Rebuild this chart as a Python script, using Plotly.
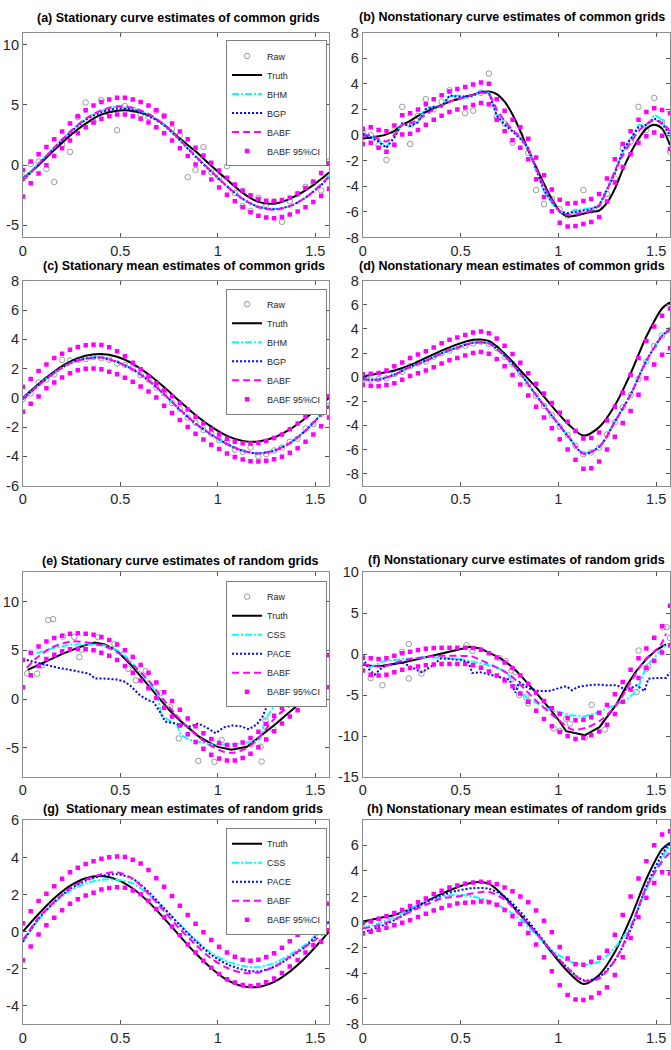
import plotly.graph_objects as go

# ---------------- common grids ----------------
XG = [0.0, 0.0403, 0.0806, 0.1208, 0.1611, 0.2014, 0.2417, 0.2819, 0.3222, 0.3625,
      0.4028, 0.4430, 0.4833, 0.5236, 0.5639, 0.6042, 0.6444, 0.6847, 0.7250, 0.7653,
      0.8055, 0.8458, 0.8861, 0.9264, 0.9666, 1.0069, 1.0472, 1.0875, 1.1278, 1.1680,
      1.2083, 1.2486, 1.2889, 1.3291, 1.3694, 1.4097, 1.4500, 1.4903, 1.5305, 1.5708]
XL = [0.0, 0.0806, 0.1611, 0.2417, 0.3222, 0.4028, 0.4833, 0.5639, 0.6444, 0.7250, 0.8055,
      0.8861, 0.9666, 1.0472, 1.1278, 1.2083, 1.2889, 1.3694, 1.4500, 1.5305, 1.5708]

TRUTH_SM = [0.0, 0.949, 1.801, 2.467, 2.882, 2.998, 2.806, 2.327, 1.606, 0.717, -0.241,
            -1.17, -1.97, -2.598, -2.943, -2.981, -2.71, -2.157, -1.395, -0.482, 0.0]
TRUTH_NM = [0.05, 0.3, 0.55, 1.0, 1.6, 2.2, 2.72, 3.1, 3.0, 1.95, 0.55,
            -0.85, -2.4, -3.85, -4.85, -4.15, -2.35, 0.3, 3.37, 5.7, 6.2]

# (a)
A_RAW = [-1.0, 0.1, 0.3, -0.3, -1.4, 1.7, 1.1, 4.0, 5.2, 3.6, 5.4, 4.3, 2.9, 4.9, 4.6, 4.2, 4.0, 4.5, 4.1, 3.0,
         2.5, -1.0, -0.4, 1.5, -0.6, -1.0, -0.1, -2.3, -3.4, -3.8, -2.7, -3.3, -3.0, -4.7, -3.0, -2.4, -1.8, -1.5, -2.1, 0.3]
A_TRUTH = [-1.09, 0.0, 1.25, 2.45, 3.45, 4.2, 4.52, 4.5, 4.15, 3.35, 2.2, 1.15, -0.05, -1.2, -2.3, -3.05, -3.2, -2.8, -2.1, -1.15, -0.6]
A_BHM = [-1.2, 0.15, 1.5, 2.8, 3.85, 4.5, 4.85, 4.7, 4.2, 3.35, 2.1, 0.75, -0.5, -1.75, -2.8, -3.45, -3.65, -3.4, -2.7, -1.6, -0.9]
A_BGP = [-1.3, 0.05, 1.4, 2.7, 3.75, 4.4, 4.7, 4.6, 4.1, 3.3, 2.05, 0.7, -0.55, -1.75, -2.8, -3.45, -3.65, -3.4, -2.7, -1.65, -0.95]
A_BABF = [-1.3, 0.1, 1.45, 2.75, 3.85, 4.55, 4.88, 4.75, 4.25, 3.35, 2.1, 0.75, -0.5, -1.75, -2.8, -3.5, -3.7, -3.4, -2.7, -1.6, -0.9]
A_UP = [-0.4, 0.3, 0.9, 1.5, 2.15, 2.8, 3.45, 4.05, 4.55, 4.95, 5.25, 5.45, 5.6, 5.6, 5.45, 5.25, 4.95, 4.55, 4.05, 3.45,
        2.8, 2.15, 1.45, 0.8, 0.2, -0.45, -1.05, -1.6, -2.1, -2.5, -2.8, -2.95, -3.0, -2.9, -2.7, -2.35, -1.9, -1.35, -0.65, 0.15]
A_LO = [-2.6, -1.5, -0.7, 0.0, 0.75, 1.4, 2.05, 2.65, 3.15, 3.55, 3.85, 4.05, 4.2, 4.2, 4.05, 3.85, 3.55, 3.15, 2.65, 2.05,
        1.4, 0.75, 0.05, -0.6, -1.2, -1.85, -2.45, -3.0, -3.5, -3.9, -4.2, -4.35, -4.4, -4.3, -4.1, -3.85, -3.5, -3.05, -2.55, -1.95]

# (b)
B_RAW = [0.1, 0.0, -0.8, -1.95, 0.3, 2.2, -0.7, 1.5, 2.8, 2.0, 2.6, 3.5, 2.9, 1.7, 1.9, 3.3, 4.8, 1.4, 0.9, -0.6,
         0.0, -1.4, -4.3, -5.4, -5.0, -5.8, -6.3, -6.0, -4.3, -5.9, -5.7, -4.6, -3.4, -1.0, -0.5, 2.2, 0.4, 2.9, 1.0, -1.3]
B_TRUTH = [-0.28, -0.2, -0.1, 0.05, 0.3, 0.8, 1.1, 1.5, 1.8, 2.1, 2.35, 2.6, 2.8, 3.0, 3.15, 3.35, 3.4, 3.2, 2.6, 1.6,
           0.3, -1.2, -2.5, -3.8, -5.0, -5.95, -6.35, -6.3, -6.15, -6.0, -5.9, -5.3, -4.2, -2.7, -1.4, -0.3, 0.5, 0.8, 0.5, -0.8]
B_BHM = [0.1, -0.1, -0.4, -0.9, -0.1, 0.9, 0.6, 1.1, 2.1, 2.2, 2.3, 3.0, 3.1, 2.9, 3.0, 3.5, 3.3, 1.6, 0.9, 0.3,
         -0.2, -1.1, -2.8, -4.4, -5.3, -6.0, -6.1, -5.9, -5.8, -5.7, -5.6, -4.2, -2.9, -1.3, -0.4, 0.8, 0.7, 1.6, 1.2, -0.2]
B_BGP = [0.1, -0.2, -0.5, -1.0, -0.2, 0.9, 0.7, 1.0, 2.0, 2.2, 2.2, 3.1, 3.0, 3.0, 3.1, 3.4, 3.3, 1.5, 0.8, 0.3,
         -0.3, -1.0, -2.7, -4.3, -5.2, -6.0, -6.1, -6.0, -5.9, -5.8, -5.5, -4.3, -3.0, -1.2, -0.3, 0.6, 0.8, 1.3, 0.9, 0.0]
B_BABF = [-0.1, 0.0, -0.3, -0.5, 0.0, 0.8, 0.9, 1.2, 1.6, 2.0, 2.3, 2.6, 2.8, 2.95, 3.15, 3.3, 3.2, 2.0, 1.1, 0.4,
          -0.2, -1.1, -2.6, -4.0, -5.1, -5.95, -6.25, -6.2, -6.05, -5.9, -5.5, -4.3, -2.8, -1.6, -0.6, 0.3, 0.85, 1.15, 0.95, 0.3]
B_UP = [0.5, 0.6, 0.4, 0.3, 0.75, 1.55, 1.7, 2.0, 2.4, 2.8, 3.1, 3.4, 3.6, 3.75, 3.95, 4.1, 4.0, 2.8, 1.9, 1.2,
        0.6, -0.3, -1.75, -3.15, -4.25, -5.05, -5.35, -5.3, -5.15, -5.0, -4.6, -3.4, -1.9, -0.7, 0.3, 1.2, 1.8, 2.1, 1.95, 1.7]
B_LO = [-0.7, -0.6, -1.0, -1.3, -0.75, 0.05, 0.1, 0.4, 0.8, 1.2, 1.5, 1.8, 2.0, 2.15, 2.35, 2.5, 2.4, 1.2, 0.3, -0.4,
        -1.0, -1.9, -3.45, -4.85, -5.95, -6.85, -7.15, -7.1, -6.95, -6.8, -6.4, -5.2, -3.7, -2.5, -1.5, -0.6, -0.1, 0.2, -0.05, -1.1]

# (c)
C_RAW = [-0.1, 0.3, 1.05, 1.25, 1.6, 2.6, 2.55, 2.6, 2.65, 2.8, 2.7, 2.6, 2.35, 2.25, 2.0, 1.55, 1.25, 0.7, 0.3, -0.35,
         -0.75, -1.35, -1.7, -2.2, -2.45, -2.9, -3.0, -3.55, -3.7, -3.4, -4.0, -3.85, -3.6, -3.4, -3.0, -2.8, -2.1, -1.8, -1.1, -0.55]
C_BHM = [-0.05, 0.87, 1.72, 2.37, 2.7, 2.76, 2.46, 1.95, 1.18, 0.22, -0.83, -1.78, -2.53, -3.17, -3.63, -3.8, -3.6, -3.08, -2.22, -1.12, -0.52]
C_BGP = [-0.08, 0.86, 1.71, 2.36, 2.69, 2.75, 2.45, 1.94, 1.19, 0.24, -0.81, -1.76, -2.51, -3.16, -3.62, -3.79, -3.61, -3.09, -2.24, -1.14, -0.54]
C_BABF = [-0.1, 0.85, 1.7, 2.35, 2.68, 2.75, 2.45, 1.95, 1.2, 0.25, -0.8, -1.75, -2.5, -3.15, -3.62, -3.8, -3.62, -3.1, -2.25, -1.15, -0.55]
C_UP = [0.76, 1.28, 1.84, 2.28, 2.73, 3.02, 3.29, 3.47, 3.6, 3.63, 3.61, 3.45, 3.18, 2.84, 2.4, 1.95, 1.46, 1.0, 0.5, 0.1,
        -0.35, -0.8, -1.3, -1.75, -2.15, -2.5, -2.8, -3.0, -3.1, -3.12, -3.08, -2.95, -2.75, -2.5, -2.15, -1.75, -1.3, -0.8, -0.3, 0.1]
C_LO = [-0.96, -0.4, 0.09, 0.65, 1.05, 1.39, 1.68, 1.88, 1.99, 2.01, 1.95, 1.79, 1.61, 1.37, 1.1, 0.78, 0.43, 0.02, -0.54, -1.03,
        -1.52, -2.0, -2.45, -2.85, -3.2, -3.5, -3.8, -4.05, -4.22, -4.33, -4.36, -4.3, -4.2, -4.03, -3.75, -3.45, -3.0, -2.5, -1.95, -1.35]

# (d)
D_RAW = [-0.25, -0.2, -0.15, -0.1, 0.25, 0.45, 0.9, 1.15, 1.3, 1.7, 2.0, 2.2, 2.5, 2.6, 2.8, 2.95, 2.75, 2.4, 1.7, 1.1,
         0.3, -0.55, -1.55, -2.4, -3.15, -4.1, -4.8, -5.7, -6.4, -6.25, -5.85, -4.75, -3.75, -2.5, -1.5, -0.15, 1.3, 2.6, 3.45, 3.9]
D_BHM = [-0.15, -0.18, 0.22, 0.86, 1.37, 2.0, 2.47, 2.86, 2.82, 1.78, 0.32, -1.48, -3.18, -4.83, -6.3, -5.78, -3.68, -1.42, 1.38, 3.45, 4.0]
D_BGP = [-0.18, -0.2, 0.2, 0.85, 1.36, 1.98, 2.46, 2.85, 2.8, 1.76, 0.3, -1.5, -3.2, -4.86, -6.35, -5.8, -3.7, -1.45, 1.36, 3.42, 3.97]
D_BABF = [-0.2, -0.2, 0.2, 0.85, 1.35, 1.98, 2.45, 2.85, 2.8, 1.75, 0.3, -1.5, -3.2, -4.85, -6.35, -5.8, -3.7, -1.45, 1.35, 3.4, 3.95]
D_UP = [0.25, 0.28, 0.35, 0.55, 0.9, 1.22, 1.6, 1.88, 2.15, 2.47, 2.82, 3.1, 3.3, 3.5, 3.7, 3.78, 3.65, 3.2, 2.6, 1.92,
        1.2, 0.32, -0.55, -1.35, -2.15, -2.95, -3.7, -4.45, -5.1, -5.05, -4.6, -3.6, -2.45, -1.3, 0.2, 1.6, 3.0, 4.2, 5.1, 5.7]
D_LO = [-0.65, -0.72, -0.75, -0.65, -0.5, -0.22, 0.1, 0.32, 0.55, 0.83, 1.14, 1.4, 1.6, 1.8, 2.0, 2.08, 1.95, 1.5, 0.9, 0.18,
        -0.6, -1.52, -2.45, -3.35, -4.25, -5.15, -6.0, -6.85, -7.6, -7.55, -7.0, -6.0, -4.95, -3.8, -2.8, -1.45, -0.1, 1.05, 1.85, 2.4]

# (e) random grids
E_RAW_X = [0.022, 0.073, 0.1, 0.13, 0.155, 0.206, 0.264, 0.29, 0.3, 0.386, 0.47, 0.54, 0.58, 0.63, 0.705,
           0.756, 0.8, 0.9, 0.983, 1.02, 1.22, 1.225, 1.245, 1.285, 1.48, 1.49, 1.503]
E_RAW_Y = [2.63, 2.6, 3.47, 8.09, 8.19, 6.4, 6.37, 4.3, 5.05, 6.34, 5.63, 3.1, 1.92, 2.86, 0.6,
           -0.84, -4.04, -6.34, -6.44, -4.21, -4.89, -6.4, -2.19, -3.1, 1.75, 2.0, -0.34]
E_TRUTH_X = [0.025, 0.1, 0.2, 0.3, 0.37, 0.42, 0.48, 0.55, 0.6, 0.65, 0.7, 0.75, 0.8, 0.85, 0.9, 0.95, 1.0,
             1.07, 1.15, 1.2, 1.25, 1.3, 1.4, 1.5]
E_TRUTH_Y = [3.0, 3.7, 4.6, 5.4, 5.8, 5.6, 5.0, 3.6, 2.4, 1.2, 0.0, -1.1, -2.1, -3.0, -3.8, -4.4, -4.9,
             -5.2, -4.9, -4.1, -3.3, -2.5, -0.8, 1.2]
E_CSS_X = [0.07, 0.15, 0.25, 0.35, 0.42, 0.5, 0.58, 0.65, 0.69, 0.71, 0.75, 0.79, 0.81, 0.86, 0.95, 1.0,
           1.1, 1.2, 1.22, 1.24, 1.28, 1.3, 1.5]
E_CSS_Y = [4.7, 5.2, 5.6, 5.6, 5.5, 4.9, 3.3, 1.6, 0.6, -1.6, -2.2, -2.6, -3.7, -4.2, -4.6, -4.7,
           -4.6, -4.3, -4.0, -2.2, -1.0, -0.2, 0.8]
E_PACE_X = [0.02, 0.06, 0.1, 0.13, 0.18, 0.24, 0.3, 0.34, 0.37, 0.42, 0.48, 0.52, 0.55, 0.58, 0.6, 0.64,
            0.67, 0.7, 0.73, 0.78, 0.82, 0.86, 0.9, 0.94, 0.99, 1.01, 1.03, 1.08, 1.12, 1.16, 1.2, 1.23,
            1.26, 1.29, 1.3, 1.38, 1.45, 1.49, 1.51]
E_PACE_Y = [4.0, 3.8, 3.6, 3.4, 3.2, 3.0, 2.8, 2.6, 2.1, 2.1, 2.0, 1.8, 1.4, 0.8, 0.4, -0.1,
            -0.3, -1.2, -2.3, -2.5, -2.7, -2.8, -2.5, -2.9, -3.5, -3.2, -2.9, -2.7, -2.8, -3.1, -2.6, -1.8,
            -0.4, 1.0, 1.6, 1.8, 2.0, 2.2, 2.8]
E_BABF_X = [0.02, 0.07, 0.15, 0.25, 0.33, 0.42, 0.5, 0.58, 0.65, 0.7, 0.78, 0.85, 0.95, 1.03, 1.08, 1.15,
            1.2, 1.25, 1.3, 1.4, 1.5]
E_BABF_Y = [3.2, 4.2, 5.3, 5.9, 5.8, 5.4, 4.6, 3.2, 1.8, 0.5, -1.5, -3.0, -4.6, -5.4, -5.5, -5.0,
            -4.2, -3.0, -1.8, -0.2, 1.3]
E_UP = [4.0, 4.75, 5.4, 5.9, 6.25, 6.5, 6.7, 6.75, 6.7, 6.6, 6.35, 6.05, 5.6, 5.0, 4.3, 3.5, 2.7, 1.7, 0.7, -0.2,
        -1.1, -2.0, -2.8, -3.5, -4.1, -4.5, -4.7, -4.7, -4.45, -4.0, -3.35, -2.55, -1.7, -0.9, -0.2, 0.55, 1.3, 2.3, 3.4, 4.5]
E_LO = [1.2, 2.45, 3.4, 4.1, 4.55, 4.9, 5.1, 5.15, 5.1, 5.0, 4.75, 4.45, 4.0, 3.4, 2.7, 1.9, 1.1, 0.1, -0.9, -1.8,
        -2.7, -3.6, -4.4, -5.1, -5.7, -6.1, -6.3, -6.3, -6.05, -5.6, -4.95, -4.15, -3.3, -2.5, -1.8, -1.15, -0.5, 0.1, 0.8, 1.2]

# (f)
F_RAW_X = [0.04, 0.1, 0.2, 0.235, 0.235, 0.3, 0.53, 0.56, 0.7, 0.73, 0.76, 0.78, 0.8, 0.836, 0.845, 0.976,
           1.007, 1.04, 1.058, 1.135, 1.17, 1.237, 1.4, 1.41, 1.45, 1.46, 1.536, 1.553, 1.57]
F_RAW_Y = [-2.93, -3.78, 0.28, 1.25, -2.97, -2.37, 1.09, 0.4, -0.5, -0.84, -2.0, -2.2, -4.98, -5.27, -6.0, -9.08,
           -9.36, -7.88, -8.48, -10.2, -6.19, -9.2, -4.62, 0.44, -1.77, -1.5, 3.26, 3.3, 1.97]
F_TRUTH_X = [0.0, 0.05, 0.1, 0.2, 0.3, 0.4, 0.48, 0.55, 0.6, 0.7, 0.75, 0.8, 0.85, 0.9, 0.95, 1.0, 1.04,
             1.135, 1.21, 1.25, 1.3, 1.35, 1.4, 1.45, 1.5, 1.55]
F_TRUTH_Y = [-1.3, -1.45, -1.4, -1.05, -0.5, 0.1, 0.5, 0.9, 0.7, -0.45, -1.3, -2.4, -3.7, -5.1, -6.5, -8.0, -9.4,
             -9.9, -8.9, -7.6, -6.0, -3.8, -2.0, -0.6, 0.5, 1.2]
F_CSS_X = [0.03, 0.1, 0.2, 0.3, 0.4, 0.5, 0.6, 0.68, 0.73, 0.76, 0.8, 0.85, 0.95, 1.05, 1.13, 1.2, 1.28,
           1.35, 1.4, 1.45, 1.55]
F_CSS_Y = [-1.7, -0.9, -0.6, -0.4, -0.4, -0.6, -1.1, -1.6, -2.1, -3.0, -4.6, -5.5, -6.7, -7.4, -7.6, -7.1, -6.3,
           -5.5, -4.5, -1.5, 1.2]
F_PACE_X = [0.0, 0.03, 0.06, 0.1, 0.15, 0.2, 0.25, 0.3, 0.35, 0.4, 0.45, 0.5, 0.54, 0.56, 0.6, 0.65, 0.7, 0.75,
            0.78, 0.8, 0.85, 0.9, 0.95, 1.0, 1.04, 1.07, 1.1, 1.15, 1.2, 1.25, 1.3, 1.35, 1.4, 1.44, 1.46, 1.5,
            1.55, 1.57]
F_PACE_Y = [-0.5, -1.8, -2.5, -1.6, -1.2, -1.0, -1.6, -2.2, -1.5, -0.5, -0.6, -0.7, -1.0, -2.3, -2.2, -2.5, -2.8, -3.1,
            -4.7, -3.4, -4.2, -4.5, -4.5, -4.2, -3.9, -4.4, -4.0, -3.8, -3.7, -3.8, -3.8, -4.4, -3.8, -4.5, -3.0, -2.9,
            -2.9, -2.2]
F_BABF_X = [0.0, 0.1, 0.2, 0.3, 0.4, 0.5, 0.56, 0.6, 0.7, 0.75, 0.8, 0.9, 1.0, 1.07, 1.15, 1.22, 1.3, 1.35, 1.4,
            1.45, 1.52, 1.55]
F_BABF_Y = [-1.2, -1.5, -0.8, -0.4, -0.2, -0.2, -0.3, -0.7, -1.8, -2.5, -3.6, -6.0, -8.0, -9.2, -8.9, -8.0, -6.1,
            -4.2, -2.2, -0.5, 1.0, 2.5]
F_UP = [-0.4, -0.5, -0.6, -0.5, -0.2, 0.1, 0.3, 0.5, 0.65, 0.75, 0.8, 0.8, 0.8, 0.8, 0.75, 0.55, 0.1, -0.4, -1.0, -1.7,
        -2.6, -3.6, -4.7, -5.7, -6.6, -7.3, -7.8, -8.05, -8.0, -7.7, -7.15, -6.2, -4.9, -3.4, -1.9, -0.5, 0.7, 2.0, 3.4, 5.9]
F_LO = [-2.0, -2.5, -2.6, -2.5, -2.2, -1.9, -1.7, -1.5, -1.35, -1.25, -1.2, -1.2, -1.2, -1.2, -1.35, -1.65, -2.1, -2.6, -3.2, -3.9,
        -4.8, -5.8, -6.9, -7.9, -8.8, -9.5, -10.0, -10.35, -10.2, -9.9, -9.45, -8.6, -7.3, -5.8, -4.3, -2.9, -1.7, -0.8, 0.2, 1.1]

# (g)
G_CSS = [-0.55, 0.65, 1.55, 2.2, 2.6, 2.8, 2.8, 2.6, 2.0, 1.25, 0.4, -0.45, -1.15, -1.6, -1.85, -1.92, -1.7, -1.25, -0.7, 0.1, 0.5]
G_PACE = [-0.55, 0.7, 1.6, 2.3, 2.75, 3.0, 3.1, 2.85, 2.15, 1.25, 0.35, -0.5, -1.25, -1.75, -2.05, -2.15, -1.9, -1.4, -0.8, 0.05, 0.55]
G_BABF = [-0.46, 0.75, 1.6, 2.35, 2.8, 3.1, 3.2, 2.85, 2.05, 1.1, 0.15, -0.7, -1.45, -1.95, -2.22, -2.2, -1.9, -1.35, -0.8, -0.2, 0.15]
G_UP = [0.45, 1.1, 1.65, 2.05, 2.45, 2.85, 3.2, 3.45, 3.65, 3.8, 3.93, 4.01, 4.05, 4.03, 3.88, 3.68, 3.33, 2.88, 2.42, 1.92,
        1.4, 0.9, 0.43, -0.03, -0.45, -0.82, -1.13, -1.35, -1.52, -1.57, -1.52, -1.37, -1.17, -0.87, -0.52, -0.17, 0.23, 0.63, 0.82, 1.5]
G_LO = [-1.55, -0.8, -0.15, 0.35, 0.75, 1.15, 1.5, 1.75, 1.95, 2.1, 2.27, 2.35, 2.39, 2.37, 2.22, 2.02, 1.67, 1.22, 0.78, 0.28,
        -0.2, -0.7, -1.13, -1.57, -1.95, -2.28, -2.57, -2.75, -2.88, -2.93, -2.88, -2.73, -2.53, -2.23, -1.88, -1.53, -1.13, -0.73, -0.55, 0.08]

# (h)
H_CSS = [-0.45, -0.1, 0.4, 1.05, 1.6, 2.0, 2.12, 2.0, 1.65, 1.05, 0.2, -1.0, -2.2, -3.0, -3.35, -3.1, -2.0, -0.3, 2.6, 5.0, 6.0]
H_PACE = [-0.8, -0.4, 0.15, 0.85, 1.55, 2.1, 2.45, 2.65, 2.6, 2.0, 0.8, -0.7, -2.3, -3.6, -4.55, -4.3, -3.0, -0.6, 2.8, 5.3, 6.2]
H_BABF = [-0.5, -0.25, 0.2, 0.8, 1.35, 1.85, 2.0, 2.25, 2.35, 1.75, 0.5, -0.85, -2.3, -3.6, -4.6, -4.4, -3.0, -0.45, 2.74, 4.75, 5.45]
H_UP = [-0.1, 0.05, 0.25, 0.45, 0.7, 0.95, 1.25, 1.55, 1.85, 2.2, 2.45, 2.7, 2.85, 3.0, 3.1, 3.15, 3.1, 2.95, 2.7, 2.4,
        2.0, 1.55, 0.9, 0.1, -0.8, -1.95, -2.85, -3.3, -3.35, -3.1, -2.8, -2.25, -1.0, 0.55, 2.0, 3.4, 4.75, 6.0, 6.85, 7.1]
H_LO = [-0.9, -0.75, -0.6, -0.45, -0.25, -0.05, 0.15, 0.4, 0.65, 0.9, 1.1, 1.3, 1.45, 1.5, 1.55, 1.6, 1.55, 1.35, 0.95, 0.45,
        -0.15, -0.85, -1.75, -2.75, -3.85, -4.95, -5.7, -6.05, -6.1, -5.9, -5.55, -5.1, -4.15, -2.75, -1.25, 0.4, 1.9, 3.05, 3.9, 3.8]

TITLES = ["(a) Stationary curve estimates of common grids",
          "(b) Nonstationary curve estimates of common grids",
          "(c) Stationary mean estimates of common grids",
          "(d) Nonstationary mean estimates of common grids",
          "(e) Stationary curve estimates of random grids",
          "(f) Nonstationary curve estimates of random grids",
          "(g)\u00a0 Stationary mean estimates of random grids",
          "(h) Nonstationary mean estimates of random grids"]

# ---------------- styling ----------------
FONT = "Liberation Sans, Arial, Helvetica, sans-serif"
C_RAW_COL = "#9a9a9a"
C_CYAN = "#00ffff"
C_BLUE = "#0000ff"
C_MAG = "#ff00ff"

XDOM = [[0.0283, 0.4873], [0.538, 0.9985]]
YDOM = [[0.7781, 0.9762], [0.5381, 0.7362], [0.2562, 0.4543], [0.0171, 0.2143]]
YRANGES = [[-6, 11], [-8, 8], [-6, 8], [-9, 8], [-8, 13], [-15, 10], [-5, 6], [-8, 7.95]]
YTICKS = [[-5, 0, 5, 10], list(range(-8, 9, 2)), list(range(-6, 9, 2)), list(range(-8, 9, 2)),
          [-5, 0, 5, 10], [-15, -10, -5, 0, 5, 10], list(range(-4, 7, 2)), list(range(-8, 7, 2))]
TITLE_POS = [(176, 10), (511, 9), (181, 262), (511, 262), (178, 562), (516, 561), (180, 813), (516, 813)]
LEGEND_TOP = {1: 33, 3: 285, 5: 582, 7: 833}

fig = go.Figure()


def axes_ids(i):
    return ("x" if i == 1 else f"x{i}"), ("y" if i == 1 else f"y{i}")


def legend_id(i):
    return {1: "legend", 3: "legend2", 5: "legend3", 7: "legend4"}.get(i)


def add_raw(i, x, y):
    xa, ya = axes_ids(i)
    lg = legend_id(i)
    fig.add_trace(go.Scatter(x=x, y=y, mode="markers", name="Raw", xaxis=xa, yaxis=ya,
                             marker=dict(symbol="circle-open", size=5.5, color=C_RAW_COL, line=dict(width=1)),
                             showlegend=lg is not None, legend=lg or "legend"))


def add_line(i, x, y, name, color, dash, width, shape="linear"):
    xa, ya = axes_ids(i)
    lg = legend_id(i)
    fig.add_trace(go.Scatter(x=x, y=y, mode="lines", name=name, xaxis=xa, yaxis=ya,
                             line=dict(color=color, dash=dash, width=width, shape=shape, smoothing=0.8),
                             showlegend=lg is not None, legend=lg or "legend"))


def add_ci(i, up, lo):
    xa, ya = axes_ids(i)
    lg = legend_id(i)
    fig.add_trace(go.Scatter(x=XG + XG, y=up + lo, mode="markers", name="BABF 95%CI", xaxis=xa, yaxis=ya,
                             marker=dict(symbol="square", size=4.5, color=C_MAG),
                             showlegend=lg is not None, legend=lg or "legend"))


DOT = "2px,2px"
DASHDOT = "7px,2px,2px,2px"
DASH = "7px,4px"

# (a)
add_raw(1, XG, A_RAW)
add_line(1, XL, A_TRUTH, "Truth", "black", "solid", 2, "spline")
add_line(1, XL, A_BHM, "BHM", C_CYAN, DASHDOT, 2, "spline")
add_line(1, XL, A_BGP, "BGP", C_BLUE, DOT, 2, "spline")
add_line(1, XL, A_BABF, "BABF", C_MAG, DASH, 2, "spline")
add_ci(1, A_UP, A_LO)
# (b)
add_raw(2, XG, B_RAW)
add_line(2, XG, B_TRUTH, "Truth", "black", "solid", 2, "spline")
add_line(2, XG, B_BHM, "BHM", C_CYAN, DASHDOT, 2)
add_line(2, XG, B_BGP, "BGP", C_BLUE, DOT, 2)
add_line(2, XG, B_BABF, "BABF", C_MAG, DASH, 2, "spline")
add_ci(2, B_UP, B_LO)
# (c)
add_raw(3, XG, C_RAW)
add_line(3, XL, TRUTH_SM, "Truth", "black", "solid", 2, "spline")
add_line(3, XL, C_BHM, "BHM", C_CYAN, DASHDOT, 2, "spline")
add_line(3, XL, C_BGP, "BGP", C_BLUE, DOT, 2, "spline")
add_line(3, XL, C_BABF, "BABF", C_MAG, DASH, 2, "spline")
add_ci(3, C_UP, C_LO)
# (d)
add_raw(4, XG, D_RAW)
add_line(4, XL, TRUTH_NM, "Truth", "black", "solid", 2, "spline")
add_line(4, XL, D_BHM, "BHM", C_CYAN, DASHDOT, 2, "spline")
add_line(4, XL, D_BGP, "BGP", C_BLUE, DOT, 2, "spline")
add_line(4, XL, D_BABF, "BABF", C_MAG, DASH, 2, "spline")
add_ci(4, D_UP, D_LO)
# (e)
add_raw(5, E_RAW_X, E_RAW_Y)
add_line(5, E_TRUTH_X, E_TRUTH_Y, "Truth", "black", "solid", 2)
add_line(5, E_CSS_X, E_CSS_Y, "CSS", C_CYAN, DASHDOT, 2)
add_line(5, E_PACE_X, E_PACE_Y, "PACE", C_BLUE, DOT, 2)
add_line(5, E_BABF_X, E_BABF_Y, "BABF", C_MAG, DASH, 2, "spline")
add_ci(5, E_UP, E_LO)
# (f)
add_raw(6, F_RAW_X, F_RAW_Y)
add_line(6, F_TRUTH_X, F_TRUTH_Y, "Truth", "black", "solid", 2)
add_line(6, F_CSS_X, F_CSS_Y, "CSS", C_CYAN, DASHDOT, 2)
add_line(6, F_PACE_X, F_PACE_Y, "PACE", C_BLUE, DOT, 2)
add_line(6, F_BABF_X, F_BABF_Y, "BABF", C_MAG, DASH, 2, "spline")
add_ci(6, F_UP, F_LO)
# (g)
add_line(7, XL, TRUTH_SM, "Truth", "black", "solid", 2, "spline")
add_line(7, XL, G_CSS, "CSS", C_CYAN, DASHDOT, 2, "spline")
add_line(7, XL, G_PACE, "PACE", C_BLUE, DOT, 2, "spline")
add_line(7, XL, G_BABF, "BABF", C_MAG, DASH, 2, "spline")
add_ci(7, G_UP, G_LO)
# (h)
add_line(8, XL, TRUTH_NM, "Truth", "black", "solid", 2, "spline")
add_line(8, XL, H_CSS, "CSS", C_CYAN, DASHDOT, 2, "spline")
add_line(8, XL, H_PACE, "PACE", C_BLUE, DOT, 2, "spline")
add_line(8, XL, H_BABF, "BABF", C_MAG, DASH, 2, "spline")
add_ci(8, H_UP, H_LO)

layout = dict(width=671, height=1050, autosize=False, margin=dict(l=0, r=0, t=0, b=0),
              paper_bgcolor="white", plot_bgcolor="white",
              font=dict(family=FONT, color="#262626"), annotations=[])

axis_common = dict(showline=True, linecolor="#8c8c8c", linewidth=1, mirror="ticks", ticks="inside",
                   ticklen=4, tickcolor="#555555", showgrid=False, zeroline=False,
                   tickfont=dict(size=14.5, color="#262626", family=FONT))

for i in range(1, 9):
    col = (i - 1) % 2
    row = (i - 1) // 2
    xk = "xaxis" if i == 1 else f"xaxis{i}"
    yk = "yaxis" if i == 1 else f"yaxis{i}"
    xa, ya = axes_ids(i)
    layout[xk] = dict(axis_common, domain=XDOM[col], anchor=ya, range=[0, 1.5708],
                      tickvals=[0, 0.5, 1, 1.5], ticktext=["0", "0.5", "1", "1.5"])
    layout[yk] = dict(axis_common, domain=YDOM[row], anchor=xa, range=YRANGES[i - 1],
                      tickvals=YTICKS[i - 1], ticktext=[str(v) for v in YTICKS[i - 1]])
    tx, ty = TITLE_POS[i - 1]
    layout["annotations"].append(dict(text="<b>" + TITLES[i - 1] + "</b>", x=tx / 671, y=1 - ty / 1050,
                                      xref="paper", yref="paper", xanchor="center", yanchor="middle",
                                      showarrow=False, font=dict(size=12.5, family=FONT, color="black")))

for i, top in LEGEND_TOP.items():
    layout[legend_id(i)] = dict(x=325 / 671, y=1 - top / 1050, xanchor="right", yanchor="top",
                                bgcolor="white", bordercolor="#7f7f7f", borderwidth=1,
                                font=dict(size=9, family=FONT, color="#262626"),
                                tracegroupgap=0, itemwidth=30)

fig.update_layout(**layout)
fig.write_html("out.html", config={"displayModeBar": False},
               post_script="document.body.style.margin='0';document.body.style.overflow='hidden';")
